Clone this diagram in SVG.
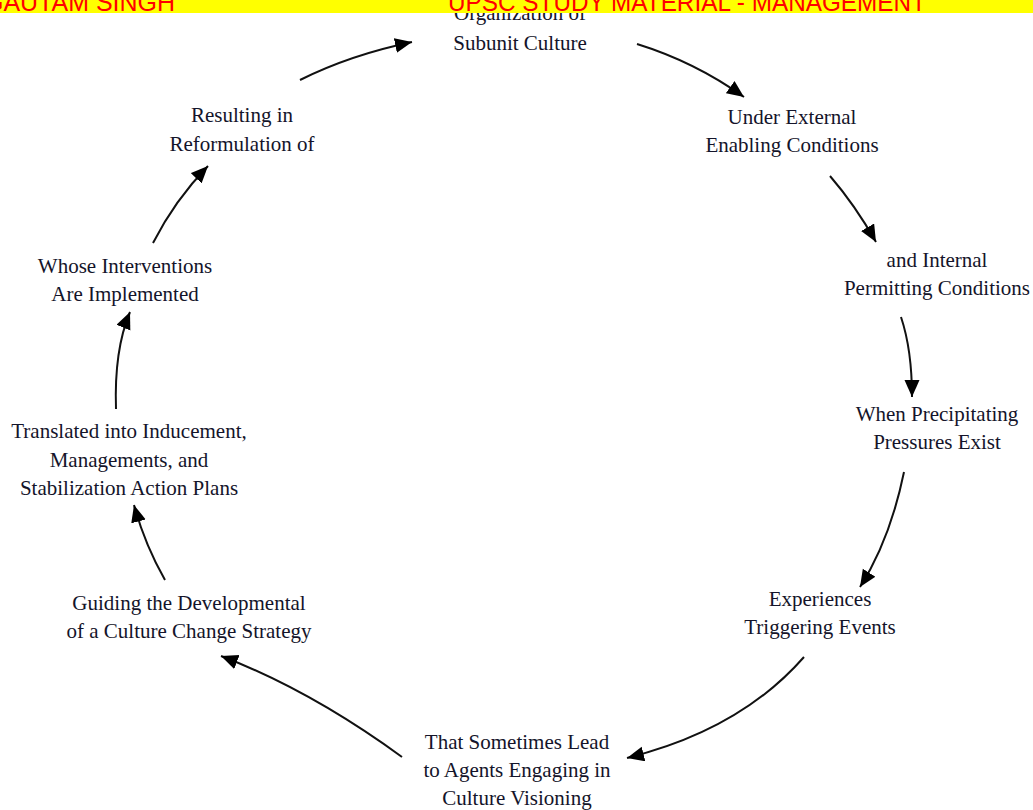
<svg xmlns="http://www.w3.org/2000/svg" width="1033" height="810" viewBox="0 0 1033 810">
<style>
.t{font-family:"Liberation Serif","Times New Roman",serif;font-size:21px;fill:#14142a;text-anchor:middle}
.c{fill:none;stroke:#111;stroke-width:2}
.b{font-family:"Liberation Sans",Arial,sans-serif;font-size:26px;fill:#ff0000}
</style>
<defs>
<marker id="ah" markerUnits="userSpaceOnUse" markerWidth="19" markerHeight="16" refX="17" refY="7.5" orient="auto">
<path d="M0,0 L17,7.5 L0,15 Z" fill="#000"/>
</marker>
</defs>
<rect width="1033" height="810" fill="#fff"/>
<g id="connectors">
<path class="c" marker-end="url(#ah)" d="M300,80 Q350,55 412,42"/>
<path class="c" marker-end="url(#ah)" d="M637,44 Q695,62 744,97"/>
<path class="c" marker-end="url(#ah)" d="M830,176 Q855,205 876,242"/>
<path class="c" marker-end="url(#ah)" d="M901,317 Q912,350 912,397"/>
<path class="c" marker-end="url(#ah)" d="M904,472 Q890,540 860,587"/>
<path class="c" marker-end="url(#ah)" d="M804,657 Q740,730 627,758"/>
<path class="c" marker-end="url(#ah)" d="M402,757 Q310,690 221,656"/>
<path class="c" marker-end="url(#ah)" d="M165,580 Q145,545 134,505"/>
<path class="c" marker-end="url(#ah)" d="M116,409 Q114,350 130,312"/>
<path class="c" marker-end="url(#ah)" d="M153,243 Q175,200 208,166"/>
</g>
<g id="n1"><text class="t" x="520" y="20">Organization of</text><text class="t" x="520" y="50">Subunit Culture</text></g>
<g id="n2"><text class="t" x="792" y="124">Under External</text><text class="t" x="792" y="152">Enabling Conditions</text></g>
<g id="n3"><text class="t" x="937" y="267">and Internal</text><text class="t" x="937" y="295">Permitting Conditions</text></g>
<g id="n4"><text class="t" x="937" y="421">When Precipitating</text><text class="t" x="937" y="449">Pressures Exist</text></g>
<g id="n5"><text class="t" x="820" y="606">Experiences</text><text class="t" x="820" y="634">Triggering Events</text></g>
<g id="n6"><text class="t" x="517" y="749">That Sometimes Lead</text><text class="t" x="517" y="777">to Agents Engaging in</text><text class="t" x="517" y="805">Culture Visioning</text></g>
<g id="n7"><text class="t" x="189" y="610">Guiding the Developmental</text><text class="t" x="189" y="638">of a Culture Change Strategy</text></g>
<g id="n8"><text class="t" x="129" y="438">Translated into Inducement,</text><text class="t" x="129" y="467">Managements, and</text><text class="t" x="129" y="495">Stabilization Action Plans</text></g>
<g id="n9"><text class="t" x="125" y="273">Whose Interventions</text><text class="t" x="125" y="301">Are Implemented</text></g>
<g id="n10"><text class="t" x="242" y="122">Resulting in</text><text class="t" x="242" y="151">Reformulation of</text></g>
<g id="banner">
<rect x="0" y="0" width="1033" height="13" fill="#ffff00"/>
<text class="b" x="-16" y="11" textLength="191" lengthAdjust="spacingAndGlyphs">GAUTAM SINGH</text>
<text class="b" x="448" y="11" textLength="478" lengthAdjust="spacingAndGlyphs">UPSC STUDY MATERIAL - MANAGEMENT</text>
</g>
</svg>
